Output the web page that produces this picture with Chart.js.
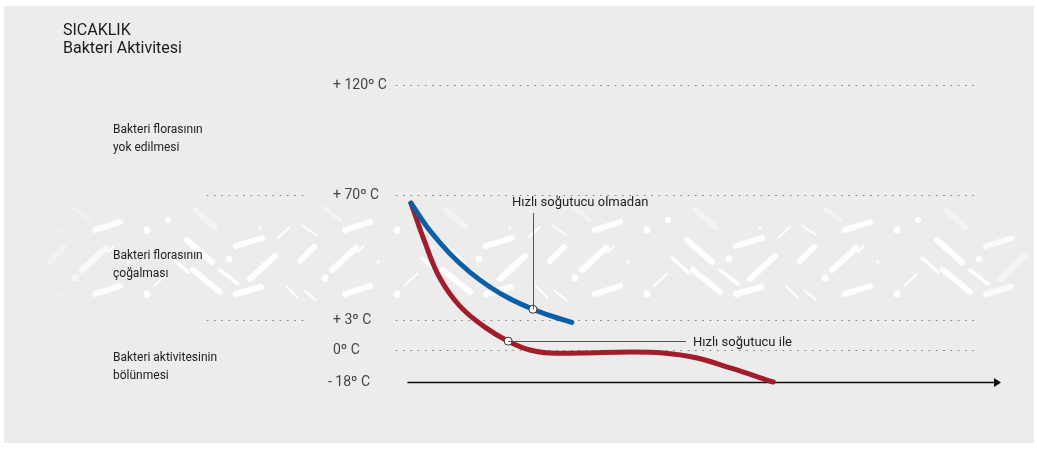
<!DOCTYPE html>
<html>
<head>
<meta charset="utf-8">
<script src="https://cdn.jsdelivr.net/npm/chart.js@4"></script>
<style>
    html, body { margin: 0; padding: 0; background: #fff; }
    #wrap { width: 1037px; height: 452px; }
</style>
</head>
<body>
<div id="wrap"><canvas id="coolGraph" width="1037" height="452"></canvas></div>
<script>
// temperature levels on the (broken) y axis
const tempTicks = [120, 70, 3, 0, -18]
const tempLabels = ["+ 120º C", "+ 70º C", "+ 3º C", "0º C", "- 18º C"]
const zoneLabels = [
    ["Bakteri florasının", "yok edilmesi"],
    ["Bakteri florasının", "çoğalması"],
    ["Bakteri aktivitesinin", "bölünmesi"]
]
const titleLines = ["SICAKLIK", "Bakteri Aktivitesi"]

// without fast cooler (blue)
const slowTime = [0, 3.2, 6.6, 10.0, 13.4, 16.8, 20.7, 23.9, 27.3]
const slowTemp = [65.7, 51.0, 38.7, 28.8, 20.9, 14.6, 9.0, 5.3, 2.8]
// with fast cooler (red)
const fastTime = [0, 2.4, 4.9, 8.3, 12.6, 16.5, 20.2, 23.6, 28.7, 37.2, 42.8, 48.6, 54.2, 61.5]
const fastTemp = [65.7, 44.4, 25.7, 10.7, 2.3, 0.9, 0, -1.7, -1.7, -1.1, -1.7, -4.5, -10.1, -18]

// annotated points
const markerTime = [20.7, 16.5]
const markerTemp = [9.0, 0.9]
const markerLabels = ["Hızlı soğutucu olmadan", "Hızlı soğutucu ile"]

// where each tick level sits along the axis (0 = bottom, 1 = top)
const tickSpots = [1, 0.6296, 0.2071, 0.1077, 0]

function tempToDecimal(t) {
    const lv = tempTicks.slice().reverse()
    const sp = tickSpots.slice().reverse()
    if (t <= lv[0]) return sp[0] + (t - lv[0]) * (sp[1] - sp[0]) / (lv[1] - lv[0])
    for (let i = 0; i < lv.length - 1; i++) {
        if (t <= lv[i + 1]) return sp[i] + (t - lv[i]) * (sp[i + 1] - sp[i]) / (lv[i + 1] - lv[i])
    }
    const n = lv.length - 1
    return sp[n] + (t - lv[n]) * (sp[n] - sp[n - 1]) / (lv[n] - lv[n - 1])
}
function decimalToTemp(d) {
    const lv = tempTicks.slice().reverse()
    const sp = tickSpots.slice().reverse()
    for (let i = 0; i < lv.length - 1; i++) {
        if (d <= sp[i + 1]) return lv[i] + (d - sp[i]) * (lv[i + 1] - lv[i]) / (sp[i + 1] - sp[i])
    }
    return lv[lv.length - 1]
}

class TempScale extends Chart.LinearScale {
    getPixelForValue(value) {
        if (value === null || value === undefined) return NaN
        return this.getPixelForDecimal(tempToDecimal(value))
    }
    getValueForPixel(pixel) {
        return decimalToTemp(this.getDecimalForPixel(pixel))
    }
}
TempScale.id = "tempSteps"
TempScale.defaults = Chart.LinearScale.defaults
Chart.register(TempScale)

// white dash pattern behind the growth zone
const decorTile = [
    ["l", 47, 30, 72, 22, 6], ["d", 99, 30, 3.5], ["l", 5, 26, 18, 35, 2],
    ["l", 2, 61, 16, 47, 6], ["l", 34, 70, 58, 48, 6], ["d", 27, 78, 3.5],
    ["l", 47, 94, 72, 86, 6], ["d", 99, 94, 3.5], ["l", 7, 91, 18, 100, 2],
    ["l", 106, 86, 119, 74, 2], ["d", 80, 62, 1.5], ["l", 26, 8, 42, 20, 4],
    ["l", 139, 40, 164, 62, 6], ["l", 145, 70, 172, 92, 6], ["d", 181, 59, 3.5],
    ["l", 124, 58, 140, 72, 3.5], ["l", 172, 70, 190, 84, 3.5], ["l", 188, 46, 214, 38, 6],
    ["l", 202, 79, 227, 56, 6], ["l", 230, 38, 242, 27, 2], ["l", 238, 86, 250, 98, 2],
    ["l", 148, 10, 167, 27, 6], ["d", 212, 28, 1.5], ["l", 188, 94, 213, 87, 6],
    ["d", 120, 20, 3], ["l", 60, 52, 66, 46, 2]
]

const backdrop = {
    id: "backdrop",
    beforeDraw(chart) {
        const ctx = chart.ctx
        const y = chart.scales.y
        ctx.save()
        ctx.fillStyle = "#ffffff"
        ctx.fillRect(0, 0, chart.width, chart.height)
        ctx.fillStyle = "#ececec"
        ctx.fillRect(4, 6, 1030, 437)

        // dash band
        ctx.lineCap = "round"
        for (let x0 = 48; x0 < 1030; x0 += 250) {
            decorTile.forEach(el => {
                const px = x0 + el[1]
                if (px < 45 || px > 1022) return
                let a = 1
                if (px < 100) a = Math.max(0.3, (px - 40) / 60)
                if (px > 975) a = Math.max(0.3, (1022 - px) / 47)
                if (el[2] < 20) a *= 0.4
                ctx.strokeStyle = ctx.fillStyle = "rgba(255,255,255," + (0.95 * a) + ")"
                if (el[0] === "d") {
                    ctx.beginPath()
                    ctx.arc(px, 200 + el[2], el[3], 0, Math.PI * 2)
                    ctx.fill()
                } else {
                    ctx.lineWidth = el[5]
                    ctx.beginPath()
                    ctx.moveTo(px, 200 + el[2])
                    ctx.lineTo(x0 + el[3], 200 + el[4])
                    ctx.stroke()
                }
            })
        }

        // dotted level lines
        ctx.strokeStyle = "#8a8a8a"
        ctx.lineWidth = 1
        ctx.setLineDash([1, 6.3])
        tempTicks.forEach(t => {
            const py = Math.round(y.getPixelForValue(t)) + 0.5
            if (t === -18) return
            ctx.beginPath()
            ctx.moveTo(396, py)
            ctx.lineTo(975, py)
            if (t === 70 || t === 3) {
                ctx.moveTo(207, py)
                ctx.lineTo(306, py)
            }
            ctx.stroke()
        })
        ctx.setLineDash([])

        // time arrow at the bottom level
        const by = Math.round(y.getPixelForValue(-18)) + 0.5
        ctx.strokeStyle = ctx.fillStyle = "#111"
        ctx.lineWidth = 1.5
        ctx.beginPath()
        ctx.moveTo(408, by)
        ctx.lineTo(996, by)
        ctx.stroke()
        ctx.beginPath()
        ctx.moveTo(1001, by)
        ctx.lineTo(994, by - 4.5)
        ctx.lineTo(994, by + 4.5)
        ctx.closePath()
        ctx.fill()

        // texts
        ctx.textBaseline = "alphabetic"
        ctx.textAlign = "left"
        ctx.fillStyle = "#1a1a1a"
        ctx.font = "16px Roboto"
        ctx.fillText(titleLines[0], 63, 35)
        ctx.fillText(titleLines[1], 63, 53)

        ctx.fillStyle = "#444"
        ctx.font = "14px Roboto"
        tempTicks.forEach((t, i) => {
            const py = y.getPixelForValue(t)
            const lx = tempLabels[i].startsWith("-") ? 328 : 333
            ctx.fillText(tempLabels[i], lx, py + 4)
        })

        ctx.fillStyle = "#222"
        ctx.font = "12px Roboto"
        const zoneAnchors = [96, 33, -9]
        zoneLabels.forEach((lines, i) => {
            const py = y.getPixelForValue(zoneAnchors[i])
            ctx.fillText(lines[0], 113, py - 5)
            ctx.fillText(lines[1], 113, py + 13)
        })
        ctx.restore()
    },
    afterDatasetsDraw(chart) {
        const ctx = chart.ctx
        const x = chart.scales.x
        const y = chart.scales.y
        ctx.save()
        ctx.strokeStyle = "#555"
        ctx.lineWidth = 1
        ctx.fillStyle = "#222"
        ctx.font = "13px Roboto"
        // label above the blue point
        let px = Math.round(x.getPixelForValue(markerTime[0])) + 0.5
        let py = y.getPixelForValue(markerTemp[0])
        ctx.beginPath()
        ctx.moveTo(px, py)
        ctx.lineTo(px, 213)
        ctx.stroke()
        ctx.fillText(markerLabels[0], 512, 206)
        // label right of the red point
        px = x.getPixelForValue(markerTime[1])
        py = Math.round(y.getPixelForValue(markerTemp[1])) + 0.5
        ctx.beginPath()
        ctx.moveTo(px, py)
        ctx.lineTo(686, py)
        ctx.stroke()
        ctx.fillText(markerLabels[1], 693, py + 4)
        ctx.restore()
    }
}

const chart = new Chart("coolGraph", {
    type: "line",
    data: {
        datasets: [
            {
                label: "markers",
                data: markerTime.map((t, i) => ({ x: t, y: markerTemp[i] })),
                showLine: false,
                pointRadius: 4,
                pointBackgroundColor: "#ffffff",
                pointBorderColor: "#333",
                pointBorderWidth: 1,
                clip: false,
                order: 0
            },
            {
                label: markerLabels[0],
                data: slowTime.map((t, i) => ({ x: t, y: slowTemp[i] })),
                borderColor: "#0b5ea8",
                borderWidth: 5,
                borderCapStyle: "round",
                tension: 0.4,
                pointRadius: 0,
                clip: false,
                order: 1
            },
            {
                label: markerLabels[1],
                data: fastTime.map((t, i) => ({ x: t, y: fastTemp[i] })),
                borderColor: "#a11d2c",
                borderWidth: 5,
                borderCapStyle: "round",
                tension: 0.4,
                pointRadius: 0,
                clip: false,
                order: 2
            }
        ]
    },
    options: {
        responsive: false,
        animation: false,
        events: [],
        layout: { padding: { left: 411, right: 37, top: 85, bottom: 70 } },
        plugins: { legend: { display: false }, tooltip: { enabled: false } },
        scales: {
            x: { type: "linear", min: 0, max: 100, display: false },
            y: { type: "tempSteps", min: -18, max: 120, display: false }
        }
    },
    plugins: [backdrop]
})
</script>
</body>
</html>
